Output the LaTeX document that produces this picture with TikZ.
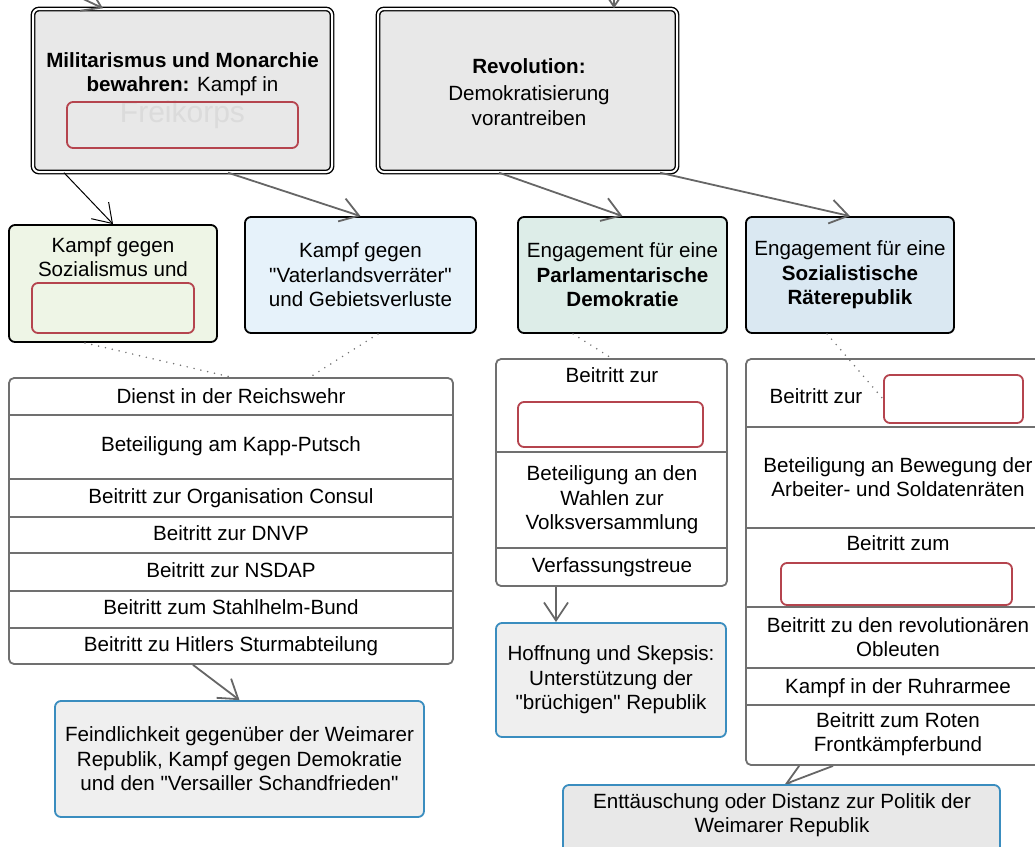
\documentclass[tikz,border=0pt]{standalone}
\usepackage{fontspec}
\setmainfont{Liberation Sans}
\usetikzlibrary{arrows.meta}

\definecolor{boxgray}{HTML}{E8E8E8}
\definecolor{softgreen}{HTML}{EEF5E6}
\definecolor{softblue}{HTML}{E6F2FA}
\definecolor{softteal}{HTML}{DDEDE8}
\definecolor{steelblue}{HTML}{DAE8F2}
\definecolor{listgray}{HTML}{707070}
\definecolor{gapred}{HTML}{B5444E}
\definecolor{edgeblue}{HTML}{3A8DBF}
\definecolor{arrowgray}{HTML}{666666}
\definecolor{resultgray}{HTML}{EFEFEF}

\pgfdeclarelayer{back}
\pgfsetlayers{back,main}

\begin{document}
\begin{tikzpicture}[x=1pt, y=-1pt,
        every node/.style={font=\fontsize{20.6}{24.5}\selectfont, inner sep=0pt},
        topbox/.style={draw=black, line width=1.4pt, double=white, double distance=2pt, rounded corners=6pt, fill=boxgray},
        goalbox/.style={draw=black, line width=1.8pt, rounded corners=6pt},
        listbox/.style={draw=listgray, line width=1.8pt, rounded corners=5pt, fill=white},
        listline/.style={draw=listgray, line width=1.8pt},
        gapbox/.style={draw=gapred, line width=1.8pt, rounded corners=6pt},
        resultbox/.style={draw=edgeblue, line width=1.8pt, rounded corners=6pt},
        txt/.style={align=center},
        row/.style={text height=15pt, text depth=4.5pt},
        flow/.style={draw=arrowgray, line width=1.8pt, -{Straight Barb[length=18pt, width=24pt]}},
        pointer/.style={draw=black, line width=1pt, -{Straight Barb[length=18pt, width=24pt]}},
        hint/.style={draw=black!55, line width=1.7pt, line cap=round, dash pattern=on 0pt off 7pt}
    ]
        \useasboundingbox (0,0) rectangle (1035,846);
        \clip (0,0) rectangle (1035,846);

        % Two starting points
        \node[topbox, minimum width=299pt, minimum height=163pt] (mil) at (182.5,90.5) {};
        \node[txt] (miltext) at (182.5,74) {\textbf{Militarismus und Monarchie}\\\textbf{bewahren:} Kampf in};
        \node[text=black!14, font=\fontsize{30}{30}\selectfont] (freikorps) at (182.5,115) {Freikorps};
        \node[gapbox, minimum width=231pt, minimum height=46pt] (gap1) at (182.5,125) {};

        \node[topbox, minimum width=299pt, minimum height=163pt] (rev) at (527.5,90.5) {};
        \node[txt] (revtext) at (529,92) {\textbf{Revolution:}\\[3pt]Demokratisierung\\vorantreiben};

        \coordinate (milin) at (60,-12);
        \coordinate (revin) at (614,-12);

        % Goals
        \node[goalbox, fill=softgreen, minimum width=208pt, minimum height=117pt] (s1) at (113,283.5) {};
        \node[txt] (s1text) at (113,257) {Kampf gegen\\Sozialismus und};
        \node[gapbox, minimum width=162pt, minimum height=50pt] (gap2) at (113,308) {};

        \node[goalbox, fill=softblue, minimum width=231pt, minimum height=116pt, txt] (s2) at (360.5,275) {Kampf gegen\\\textquotedbl Vaterlandsverräter\textquotedbl\\und Gebietsverluste};
        \node[goalbox, fill=softteal, minimum width=209pt, minimum height=116pt, txt] (par) at (622.5,275) {Engagement für eine\\\textbf{Parlamentarische}\\\textbf{Demokratie}};
        \node[goalbox, fill=steelblue, minimum width=208pt, minimum height=116pt, txt] (rat) at (850,275) {Engagement für eine\\\textbf{Sozialistische}\\\textbf{Räterepublik}};

        % Actions on the right wing
        \node[listbox, minimum width=444pt, minimum height=286pt] (l1) at (231,521) {};
        \foreach \y in {415,479,517,553,591,628}
            \draw[listline] (9,\y) -- (453,\y);
        \node[row] (l1a) at (231,398) {Dienst in der Reichswehr};
        \node[row] (l1b) at (231,446) {Beteiligung am Kapp-Putsch};
        \node[row] (l1c) at (231,498) {Beitritt zur Organisation Consul};
        \node[row] (l1d) at (231,535) {Beitritt zur DNVP};
        \node[row] (l1e) at (231,572) {Beitritt zur NSDAP};
        \node[row] (l1f) at (231,609) {Beitritt zum Stahlhelm-Bund};
        \node[row] (l1g) at (231,646) {Beitritt zu Hitlers Sturmabteilung};

        % Actions for the parliamentary democracy
        \node[listbox, minimum width=231pt, minimum height=227pt] (l2) at (611.5,472.5) {};
        \foreach \y in {452,548}
            \draw[listline] (496,\y) -- (727,\y);
        \node[row] (l2a) at (612,377) {Beitritt zur};
        \node[gapbox, minimum width=185pt, minimum height=45pt] (gap3) at (610.5,424.5) {};
        \node[txt] (l2b) at (612,500) {Beteiligung an den\\Wahlen zur\\Volksversammlung};
        \node[row] (l2c) at (612,567) {Verfassungstreue};

        % Actions for the council republic
        \node[listbox, minimum width=314pt, minimum height=406pt] (l3) at (903,562) {};
        \foreach \y in {427,528,607,668,705}
            \draw[listline] (746,\y) -- (1060,\y);
        \node[row] (l3a) at (816,398) {Beitritt zur};
        \node[gapbox, minimum width=139pt, minimum height=48pt] (gap4) at (953.5,399) {};
        \node[txt] (l3b) at (898,477) {Beteiligung an Bewegung der\\Arbeiter- und Soldatenräten};
        \node[row] (l3c) at (898,545) {Beitritt zum};
        \node[gapbox, minimum width=231pt, minimum height=42pt] (gap5) at (896.5,584) {};
        \node[txt] (l3d) at (898,637) {Beitritt zu den revolutionären\\Obleuten};
        \node[row] (l3e) at (898,688) {Kampf in der Ruhrarmee};
        \node[txt] (l3f) at (898,734) {Beitritt zum Roten\\Frontkämpferbund};

        % Outcomes
        \node[resultbox, fill=resultgray, minimum width=369pt, minimum height=116pt, txt] (e1) at (239.5,759) {Feindlichkeit gegenüber der Weimarer\\Republik, Kampf gegen Demokratie\\und den \textquotedbl Versailler Schandfrieden\textquotedbl};
        \node[resultbox, fill=resultgray, minimum width=230pt, minimum height=114pt, txt] (e2) at (611,680) {Hoffnung und Skepsis:\\Unterstützung der\\\textquotedbl brüchigen\textquotedbl\ Republik};
        \node[resultbox, fill=boxgray, minimum width=437pt, minimum height=100pt] (e3) at (781.5,835) {};
        \node[txt] (e3text) at (782,815) {Enttäuschung oder Distanz zur Politik der\\Weimarer Republik};

        % Arrows
        \draw[flow] (milin) -- ([xshift=-79.5pt]mil.north);
        \draw[flow] (revin) -- ([xshift=86.5pt]rev.north);
        \draw[pointer] ([xshift=-118.5pt]mil.south) -- (s1.north);
        \draw[flow] ([xshift=45.5pt]mil.south) -- (s2.north);
        \draw[flow] ([xshift=-28.5pt]rev.south) -- (par.north);
        \draw[flow] ([xshift=132.5pt]rev.south) -- (rat.north);
        \draw[flow] ([xshift=-38pt]l1.south) -- (e1.north);
        \draw[flow] ([xshift=-55.5pt]l2.south) -- ([xshift=-55pt]e2.north);
        \begin{pgfonlayer}{back}
            \draw[flow] ([xshift=-70pt]l3.south) -- ([xshift=3.5pt]e3.north);
        \end{pgfonlayer}

        % Dotted links to the actions
        \draw[hint] ([xshift=-28pt]s1.south) -- (l1.north);
        \draw[hint] ([xshift=17.5pt]s2.south) -- ([xshift=79pt]l1.north);
        \draw[hint] ([xshift=-49.5pt]par.south) -- (l2.north);
        \draw[hint] ([xshift=-23pt]rat.south) -- (gap4.west);
\end{tikzpicture}
\end{document}
